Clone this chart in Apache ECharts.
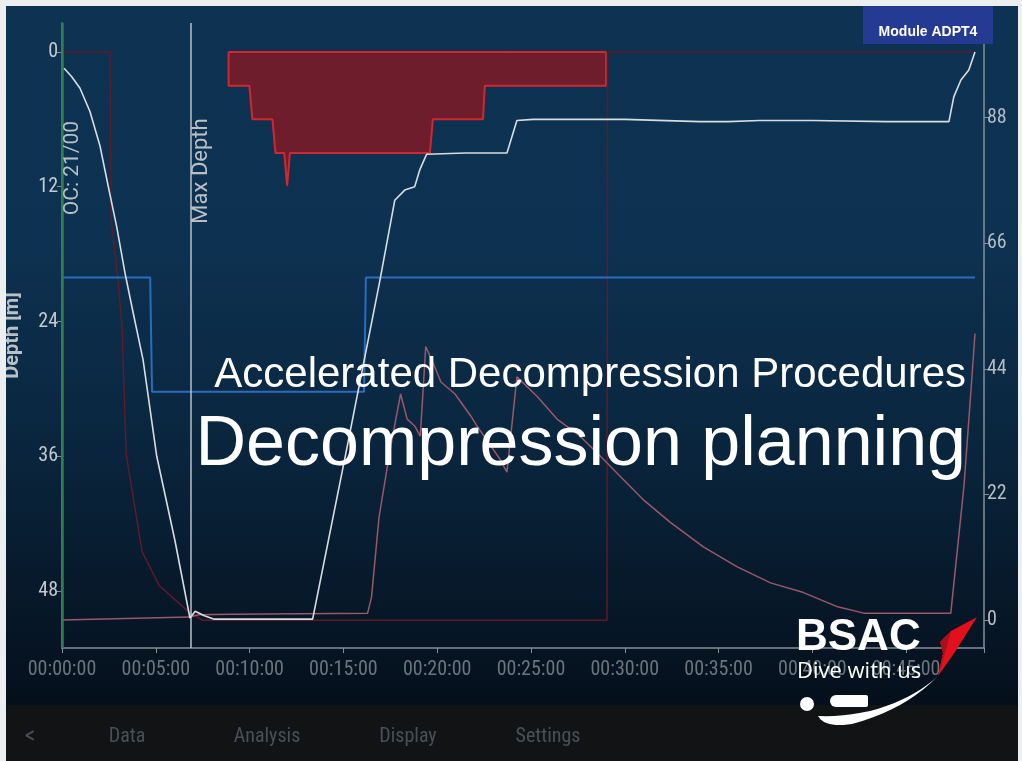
<!DOCTYPE html>
<html>
<head>
<meta charset="utf-8">
<script src="https://cdn.jsdelivr.net/npm/echarts@6/dist/echarts.min.js"></script>
<style>
html,body{margin:0;padding:0;background:#eceef0;width:1022px;height:761px;overflow:hidden}
#bg{position:absolute;left:6px;top:6px;width:1012px;height:699px;
background:linear-gradient(to bottom,#0e3352 0%,#0d3150 35%,#0a2740 60%,#071a2c 82%,#050f1b 100%)}
#nav{position:absolute;left:6px;top:705px;width:1012px;height:56px;background:#121314}
#main{position:absolute;left:0;top:0;width:1022px;height:761px}
</style>
</head>
<body>
<div id="bg"></div>
<div id="nav"></div>
<div id="main"></div>
<script>
// ---- data (time in minutes) ----
const timeTicksMin = [0, 5, 10, 15, 20, 25, 30, 35, 40, 45];
const depthTicks = [0, 12, 24, 36, 48];
const rightTicks = [0, 22, 44, 66, 88];

const depthTime  = [0.11, 0.52, 0.96, 1.49, 2.03, 2.47, 2.92, 3.36, 3.79, 4.32, 5.05, 6.02, 6.82, 7.10, 7.59, 8.12, 13.36, 15.17, 16.93, 17.74, 18.27, 18.80, 19.07, 19.44, 21.5, 23.72, 24.25, 25.11, 30.0, 34.0, 35.5, 37.2, 40.0, 44.0, 47.28, 47.54, 47.92, 48.34, 48.67];
const depthValue = [1.45, 2.2, 3.23, 5.3, 8.4, 12.0, 15.6, 19.7, 23.2, 27.4, 36.0, 43.5, 50.4, 49.8, 50.2, 50.5, 50.5, 35.4, 20.5, 13.2, 12.3, 12.0, 10.5, 9.1, 9.0, 9.0, 6.1, 6.0, 6.0, 6.2, 6.2, 6.1, 6.1, 6.2, 6.2, 4.0, 2.5, 1.6, 0];

const tissueTime  = [0, 6.78, 7.3, 9.0, 16.29, 16.5, 16.9, 17.5, 18.05, 18.4, 18.8, 19.1, 19.39, 19.8, 20.2, 20.95, 21.8, 22.12, 23.34, 23.72, 24.25, 25.32, 26.39, 27.62, 28.85, 29.75, 30.98, 32.43, 34.19, 36.0, 37.77, 39.53, 41.35, 42.74, 47.38, 48.08, 48.45, 48.67];
const tissueValue = [0, 0.5, 0.9, 1.0, 1.2, 4.0, 18.0, 30.0, 39.6, 35.2, 34.0, 32.2, 47.9, 44.9, 41.7, 39.6, 35.7, 34.0, 28.2, 25.9, 42.6, 39.2, 35.2, 32.2, 28.2, 25.2, 21.1, 17.1, 12.8, 9.3, 6.5, 4.8, 2.3, 1.2, 1.2, 23.4, 40.0, 50.2];

const statusTime  = [0, 2.56, 2.62, 2.94, 3.2, 3.42, 4.27, 5.18, 6.78, 7.5, 29.05, 29.08, 48.67];
const statusValue = [0, 0, 14.9, 19.6, 24.4, 35.8, 44.5, 47.5, 49.9, 50.6, 50.6, 0, 0];

const gfTime  = [0, 4.7, 4.8, 16.1, 16.2, 48.67];
const gfValue = [60, 60, 40, 40, 60, 60];

const ceilTime  = [8.88, 8.88, 9.99, 10.15, 11.22, 11.38, 11.85, 12.0, 12.15, 19.61, 19.77, 22.44, 22.54, 29.0, 29.0];
const ceilValue = [0, 3, 3, 6, 6, 9, 9, 11.9, 9, 9, 6, 6, 3, 3, 0];

const ocTime = 0;
const maxDepthTime = 6.86;
const navItems = ['<', 'Data', 'Analysis', 'Display', 'Settings'];

// ---- helpers ----
const zip = (a, b) => a.map((t, i) => [t, b[i]]);
const pad = n => String(n).padStart(2, '0');
const NARROW = "'Liberation Sans Narrow','Roboto Condensed','DejaVu Sans Condensed',sans-serif";
const AXIS = '#858f98';

const chart = echarts.init(document.getElementById('main'), null, {renderer: 'canvas'});

const option = {
  animation: false,
  backgroundColor: 'transparent',
  grid: {left: 62, right: 38, top: 23, bottom: 113, containLabel: false, outerBoundsMode: 'none'},
  xAxis: {
    type: 'value', min: 0, max: 49.15, interval: 5,
    axisLine: {show: true, onZero: false, lineStyle: {color: AXIS, width: 1.5}},
    axisTick: {show: true, length: 5, lineStyle: {color: AXIS}},
    splitLine: {show: false},
    axisLabel: {
      color: '#6c757e', fontSize: 20, fontFamily: NARROW, margin: 12,
      formatter: v => timeTicksMin.includes(v) ? '00:' + pad(v) + ':00' : ''
    }
  },
  yAxis: [{
    type: 'value', inverse: true, min: -2.58, max: 53.07,
    name: 'Depth [m]', nameLocation: 'middle', nameGap: 39,
    nameTextStyle: {color: '#b9c0c6', fontSize: 20, fontWeight: 'bold', fontFamily: 'Roboto, sans-serif'},
    axisLine: {show: true, onZero: false, lineStyle: {color: AXIS, width: 1.5}},
    axisTick: {show: true, length: 5, customValues: depthTicks, lineStyle: {color: AXIS}},
    splitLine: {show: false},
    axisLabel: {customValues: depthTicks, color: '#c3c9ce', fontSize: 20, fontFamily: NARROW, margin: 4}
  }, {
    type: 'value', position: 'right', min: -4.91, max: 104.6,
    axisLine: {show: true, onZero: false, lineStyle: {color: AXIS, width: 1.5}},
    axisTick: {show: true, length: 5, customValues: rightTicks, lineStyle: {color: AXIS}},
    splitLine: {show: false},
    axisLabel: {customValues: rightTicks, color: '#b5bcc3', fontSize: 20, fontFamily: NARROW, margin: 3}
  }],
  series: [
    {
      name: 'Ceiling', type: 'line', yAxisIndex: 0, symbol: 'none', z: 2,
      data: zip(ceilTime, ceilValue),
      lineStyle: {color: '#d3262e', width: 2},
      areaStyle: {color: '#6d1d2c', opacity: 1, origin: 0}
    },
    {
      name: 'CeilingTop', type: 'line', yAxisIndex: 0, symbol: 'none', z: 2,
      data: [[ceilTime[0], ceilValue[0]], [ceilTime[ceilTime.length - 1], ceilValue[ceilValue.length - 1]]],
      lineStyle: {color: '#d3262e', width: 2}
    },
    {
      name: 'Status', type: 'line', yAxisIndex: 0, symbol: 'none', z: 3,
      data: zip(statusTime, statusValue),
      lineStyle: {color: '#5e1b28', width: 1.5}
    },
    {
      name: 'GF', type: 'line', yAxisIndex: 1, symbol: 'none', z: 3,
      data: zip(gfTime, gfValue),
      lineStyle: {color: '#2a6cc0', width: 2}
    },
    {
      name: 'Tissue', type: 'line', yAxisIndex: 1, symbol: 'none', z: 4,
      data: zip(tissueTime, tissueValue),
      lineStyle: {color: '#9a5868', width: 1.5}
    },
    {
      name: 'Depth', type: 'line', yAxisIndex: 0, symbol: 'none', z: 5,
      data: zip(depthTime, depthValue),
      lineStyle: {color: '#d8dde1', width: 1.6},
      markLine: {
        silent: true, symbol: 'none', label: {show: false},
        data: [
          {xAxis: ocTime, lineStyle: {color: '#2f7d4c', width: 2.5, type: 'solid'}},
          {xAxis: maxDepthTime, lineStyle: {color: '#b8c0c7', width: 1.5, type: 'solid'}}
        ]
      }
    }
  ]
};
chart.setOption(option);

// ---- overlay text (positioned from the chart's own scales) ----
const ocX = chart.convertToPixel({xAxisIndex: 0}, ocTime);
const mdX = chart.convertToPixel({xAxisIndex: 0}, maxDepthTime);
const g = [];
g.push({type: 'text', x: ocX + 11, y: 168, rotation: Math.PI / 2, z: 50,
  style: {text: 'OC: 21/00', fill: '#b9c0c6', font: "21px Roboto, 'Liberation Sans', sans-serif", textAlign: 'center', textVerticalAlign: 'middle'}});
g.push({type: 'text', x: mdX + 11, y: 171, rotation: Math.PI / 2, z: 50,
  style: {text: 'Max Depth', fill: '#b9c0c6', font: "22px Roboto, 'Liberation Sans', sans-serif", textAlign: 'center', textVerticalAlign: 'middle'}});

// slide titles
g.push({type: 'text', x: 966, y: 396, z: 60,
  style: {text: 'Accelerated Decompression Procedures', fill: '#ffffff', font: "42px 'Liberation Sans', Arial, sans-serif", textAlign: 'right', textVerticalAlign: 'bottom'}});
g.push({type: 'text', x: 966, y: 481, z: 60,
  style: {text: 'Decompression planning', fill: '#ffffff', font: "70px 'Liberation Sans', Arial, sans-serif", textAlign: 'right', textVerticalAlign: 'bottom'}});

// module badge
g.push({type: 'rect', z: 60, shape: {x: 863, y: 6, width: 130, height: 38}, style: {fill: '#253a92'}});
g.push({type: 'text', x: 928, y: 32, z: 61,
  style: {text: 'Module ADPT4', fill: '#ffffff', font: "bold 14px 'Liberation Sans', Arial, sans-serif", textAlign: 'center', textVerticalAlign: 'middle'}});

// nav bar texts
const navX = [30, 127, 267, 408, 548];
navItems.forEach((t, i) => g.push({type: 'text', x: navX[i], y: 737, z: 60,
  style: {text: t, fill: '#4b5058', font: (i === 0 ? '24px ' : '20px ') + NARROW, textAlign: 'center', textVerticalAlign: 'middle'}}));

// BSAC logo
function quad(p0, p1, p2, n) {
  const out = [];
  for (let i = 1; i <= n; i++) {
    const t = i / n, u = 1 - t;
    out.push([u * u * p0[0] + 2 * u * t * p1[0] + t * t * p2[0], u * u * p0[1] + 2 * u * t * p1[1] + t * t * p2[1]]);
  }
  return out;
}
const cres = [[938, 676]]
  .concat(quad([938, 676], [905, 710], [852, 724], 10))
  .concat(quad([852, 724], [824, 728], [818, 716], 6))
  .concat(quad([818, 716], [842, 717], [870, 711], 6))
  .concat(quad([870, 711], [912, 700], [938, 676], 10));
g.push({type: 'text', x: 796, y: 660, z: 70,
  style: {text: 'BSAC', fill: '#ffffff', font: "bold 44px 'Liberation Sans', Arial, sans-serif", textAlign: 'left', textVerticalAlign: 'bottom'}});
g.push({type: 'text', x: 797, y: 683, z: 70,
  style: {text: 'Dive with us', fill: '#ffffff', font: "22px 'Open Sans', 'Liberation Sans', sans-serif", textAlign: 'left', textVerticalAlign: 'bottom'}});
g.push({type: 'polygon', z: 70, shape: {points: [[977, 617], [951, 631], [940, 642], [943, 653], [938, 676], [955, 652]]}, style: {fill: '#e2101c'}});
g.push({type: 'polygon', z: 71, shape: {points: [[951, 631], [940, 642], [943, 653], [938, 676], [946, 650]]}, style: {fill: '#a8101a'}});
g.push({type: 'polygon', z: 70, shape: {points: cres}, style: {fill: '#ffffff'}});
g.push({type: 'rect', z: 70, shape: {x: 830, y: 695, width: 38, height: 12, r: [6, 2, 2, 6]}, style: {fill: '#ffffff'}});
g.push({type: 'circle', z: 70, shape: {cx: 807, cy: 704, r: 7}, style: {fill: '#ffffff'}});

// slide border (covers chart edges)
g.push({type: 'rect', z: 100, shape: {x: 0, y: 0, width: 1022, height: 6}, style: {fill: '#eceef0'}});
g.push({type: 'rect', z: 100, shape: {x: 0, y: 0, width: 6, height: 761}, style: {fill: '#eceef0'}});
g.push({type: 'rect', z: 100, shape: {x: 1018, y: 0, width: 4, height: 761}, style: {fill: '#eceef0'}});

chart.setOption({graphic: g});
</script>
</body>
</html>
